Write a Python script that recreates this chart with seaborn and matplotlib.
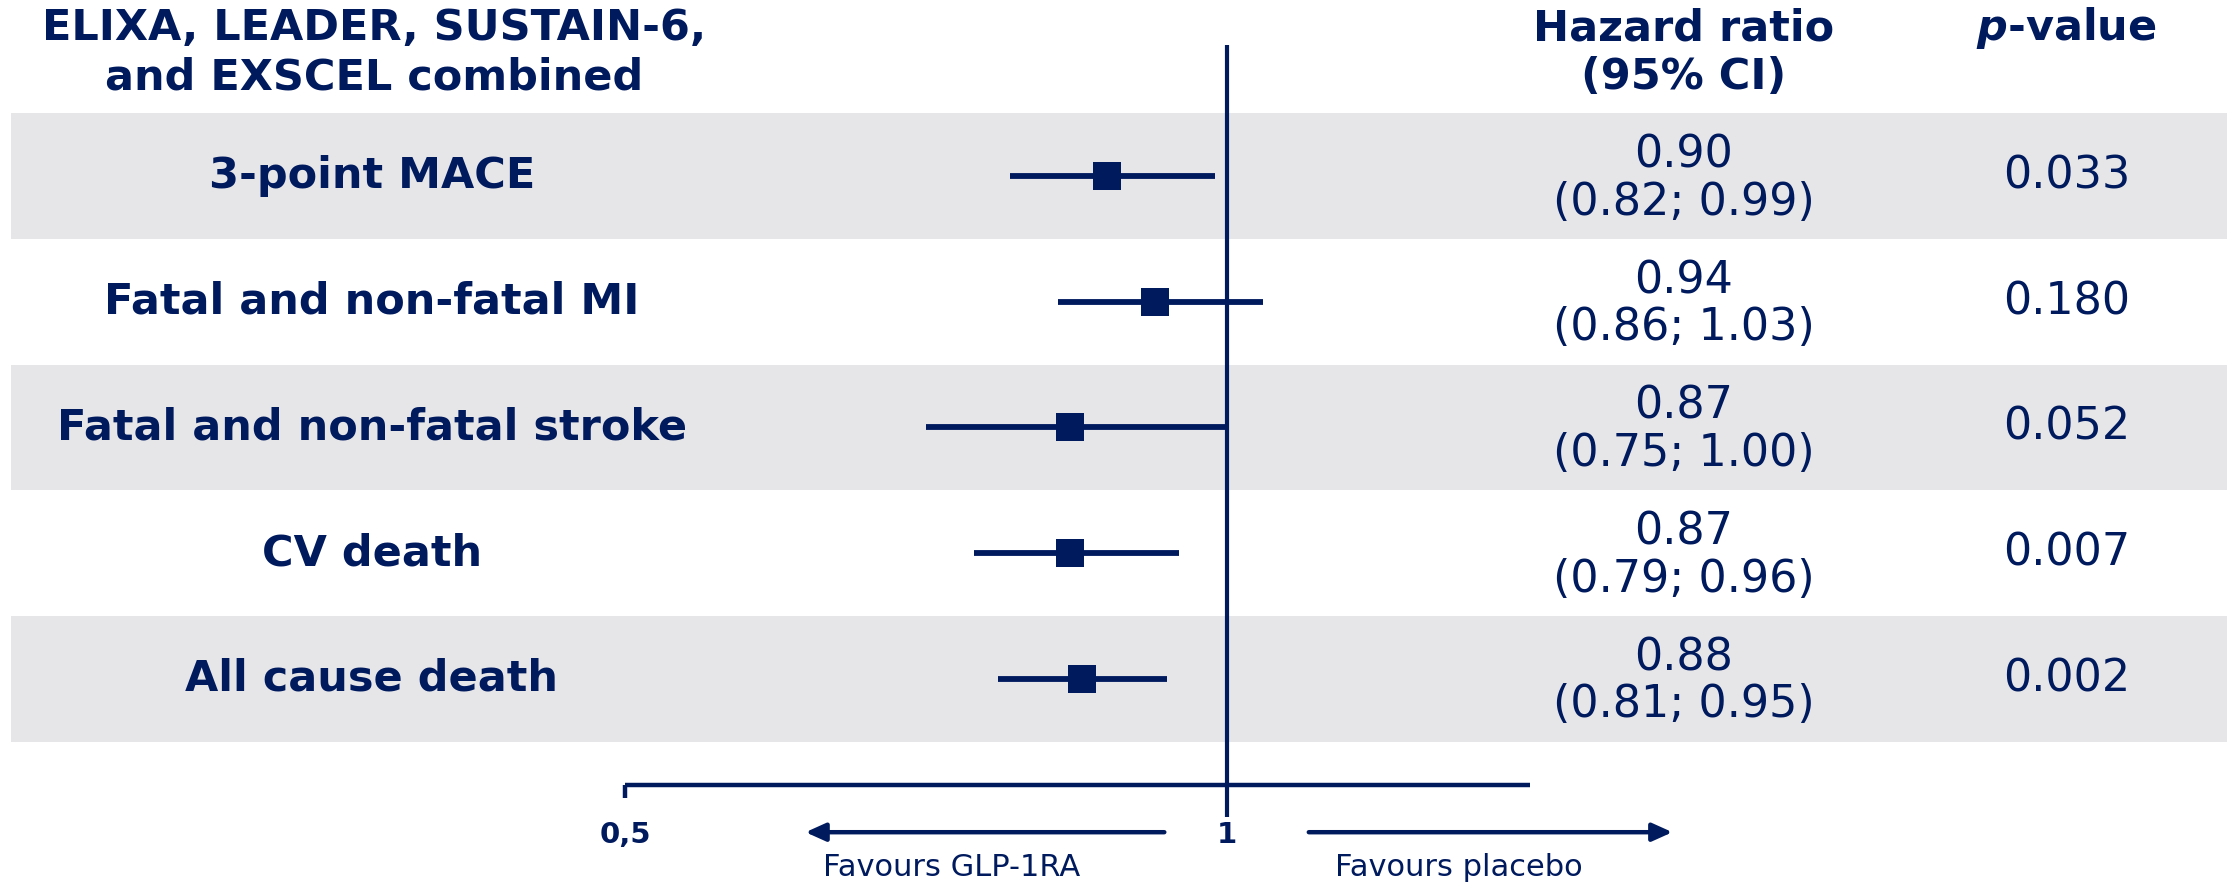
import matplotlib
matplotlib.use("Agg")
import matplotlib.pyplot as plt
import seaborn as sns

# data
outcomes = ["3-point MACE", "Fatal and non-fatal MI", "Fatal and non-fatal stroke",
            "CV death", "All cause death"]
hr = [0.90, 0.94, 0.87, 0.87, 0.88]
ci_low = [0.82, 0.86, 0.75, 0.79, 0.81]
ci_high = [0.99, 1.03, 1.00, 0.96, 0.95]
p_values = ["0.033", "0.180", "0.052", "0.007", "0.002"]
tick_values = [0.5, 1.0]
tick_labels = ["0,5", "1"]

navy = "#001a5e"
band = "#e6e6e9"

sns.set_theme(style="white")
plt.rcParams["font.family"] = ["DejaVu Sans"]

fig = plt.figure(figsize=(22.27, 8.85), dpi=100)
ax = fig.add_axes([0, 0, 1, 1])

rows = list(range(len(outcomes)))
tx = ax.get_yaxis_transform()  # x in axes fraction, y in data

# alternating grey bands
for i in rows:
    if i % 2 == 0:
        ax.axhspan(i - 0.5, i + 0.5, xmin=0.005, xmax=1, color=band, lw=0, zorder=0)

# reference line at HR = 1
ax.vlines(1.0, -1.04, 5.10, color=navy, lw=3.0, zorder=2)

# confidence intervals and point estimates
ax.hlines(rows, ci_low, ci_high, color=navy, lw=4.2, zorder=3)
sns.scatterplot(x=hr, y=rows, marker="s", s=410, color=navy, edgecolor=navy,
                linewidth=0, ax=ax, zorder=4, legend=False)
ax.set_xlim(-0.019, 1.8306)
ax.set_ylim(5.64, -1.40)
ax.axis("off")

# bottom axis
axis_y = 4.845
ax.hlines(axis_y, tick_values[0], 1.252, color=navy, lw=3.2)
ax.vlines(tick_values[0], axis_y, 4.95, color=navy, lw=3.2)
for v, lab in zip(tick_values, tick_labels):
    ax.text(v, 5.24, lab, ha="center", va="center", fontsize=21,
            fontweight="bold", color=navy)

# favours arrows
arrow = dict(arrowstyle="-|>,head_length=1.0,head_width=0.45", color=navy, lw=3.2,
             shrinkA=0, shrinkB=0)
ax.annotate("", xy=(0.650, 5.22), xytext=(0.948, 5.22), arrowprops=arrow)
ax.annotate("", xy=(1.370, 5.22), xytext=(1.068, 5.22), arrowprops=arrow)
ax.text(0.771, 5.50, "Favours GLP-1RA", ha="center", va="center", fontsize=22, color=navy)
ax.text(1.193, 5.50, "Favours placebo", ha="center", va="center", fontsize=22, color=navy)

# headers
ax.text(0.168, -0.98, "ELIXA, LEADER, SUSTAIN-6,\nand EXSCEL combined", transform=tx,
        ha="center", va="center", fontsize=31, fontweight="bold", color=navy,
        linespacing=1.2)
ax.text(0.756, -0.98, "Hazard ratio\n(95% CI)", transform=tx, ha="center", va="center",
        fontsize=31, fontweight="bold", color=navy, linespacing=1.2)
ax.text(0.928, -1.18, r"$\bfit{p}$-value", transform=tx, ha="center", va="center",
        fontsize=31, fontweight="bold", color=navy)

# row texts
for i, name in enumerate(outcomes):
    ax.text(0.167, i, name, transform=tx, ha="center", va="center", fontsize=31,
            fontweight="bold", color=navy)
    ax.text(0.756, i + 0.02, f"{hr[i]:.2f}\n({ci_low[i]:.2f}; {ci_high[i]:.2f})",
            transform=tx, ha="center", va="center", fontsize=32, color=navy,
            linespacing=1.12)
    ax.text(0.928, i, p_values[i], transform=tx, ha="center", va="center",
            fontsize=32, color=navy)

fig.savefig("out.png", dpi=100)
